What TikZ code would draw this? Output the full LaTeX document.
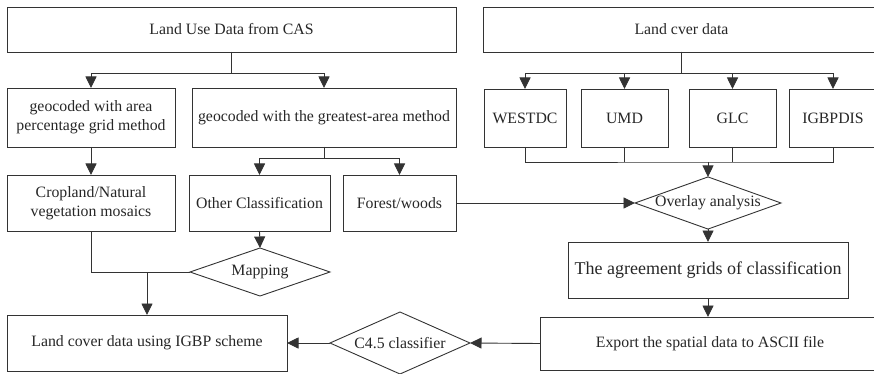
\documentclass[tikz,border=0pt]{standalone}
\usepackage{fontspec}
\setmainfont{Liberation Serif}
\usetikzlibrary{arrows.meta,shapes.geometric}
\begin{document}
\begin{tikzpicture}[x=1pt,y=-1pt,
  every node/.style={font=\fontsize{15.8}{19}\selectfont, text=black!85},
  box/.style={draw=black!80, line width=0.9pt, rectangle, inner sep=0pt, outer sep=0pt, align=center},
  dia/.style={draw=black!80, line width=0.9pt, diamond, inner sep=0pt, outer sep=0pt, aspect=2.8},
  ln/.style={draw=black!80, line width=0.9pt},
  arr/.style={ln, -{Triangle[length=11.5pt,width=11pt]}}]
\useasboundingbox (0,0) rectangle (874,374);
\clip (0,0) rectangle (874,374);
% top boxes
\node[box, minimum width=449, minimum height=45] (cas) at (231.5,29.5) {Land Use Data from CAS};
\node[box, minimum width=397, minimum height=45] (lcd) at (681.5,29.5) {Land cver data};
% second row
\node[box, minimum width=168, minimum height=59] (area) at (91,117.5) {geocoded with area\\percentage grid method};
\node[box, minimum width=264, minimum height=59] (great) at (324,117.5) {geocoded with the greatest-area method};
\node[box, minimum width=82, minimum height=58] (west) at (525,118) {WESTDC};
\node[box, minimum width=87, minimum height=58] (umd) at (624.5,118) {UMD};
\node[box, minimum width=87, minimum height=58] (glc) at (732.5,118) {GLC};
\node[box, minimum width=88, minimum height=58] (igbp) at (833,118) {IGBPDIS};
% third row
\node[box, minimum width=168, minimum height=56] (crop) at (91,203) {Cropland/Natural\\vegetation mosaics};
\node[box, minimum width=141, minimum height=56] (other) at (259.5,203) {Other Classification};
\node[box, minimum width=113, minimum height=56] (forest) at (399.5,203) {Forest/woods};
\node[dia, minimum width=140, minimum height=50] (ov) at (708,203) {Overlay analysis};
% lower
\node[dia, minimum width=140, minimum height=48] (map) at (260,272) {Mapping};
\node[box, minimum width=280, minimum height=56, font=\fontsize{18}{21}\selectfont] (agree) at (708,270) {The agreement grids of classification};
\node[box, minimum width=280, minimum height=56] (out) at (147,343) {Land cover data using IGBP scheme};
\node[dia, minimum width=140, minimum height=62] (c45) at (400,343) {C4.5 classifier};
\node[box, minimum width=340, minimum height=53] (exp) at (710,343.5) {Export the spatial data to ASCII file};
\coordinate (j) at (708,162);
% connectors
\draw[arr] (cas.south) -- ++(0,21) -| (area.north);
\draw[arr] (cas.south) -- ++(0,21) -| (great.north);
\draw[arr] (lcd.south) -- ++(0,21) -| (west.north);
\draw[arr] (lcd.south) -- ++(0,21) -| (umd.north);
\draw[arr] (lcd.south) -- ++(0,21) -| (glc.north);
\draw[arr] (lcd.south) -- ++(0,21) -| (igbp.north);
\draw[arr] (area) -- (crop);
\draw[arr] (great.south) -- ++(0,11) -| (other.north);
\draw[arr] (great.south) -- ++(0,11) -| (forest.north);
\draw[ln] (west.south) |- (j) -| (igbp.south);
\draw[ln] (umd.south) -- (umd.south |- j);
\draw[ln] (glc.south) -- (glc.south |- j);
\draw[arr] (j) -- (ov.north);
\draw[arr] (forest.east) -- (ov.west);
\draw[arr] (ov.south) -- (agree.north);
\draw[arr] (agree.south) -- (agree.south |- exp.north);
\draw[arr] (other.south) -- (map.north);
\draw[ln] (crop.south) |- (map.west);
\draw[arr] (out.north |- map.west) -- (out.north);
\draw[arr] (exp.west) -- (c45.east);
\draw[arr] (c45.west) -- (out.east);
\end{tikzpicture}
\end{document}
